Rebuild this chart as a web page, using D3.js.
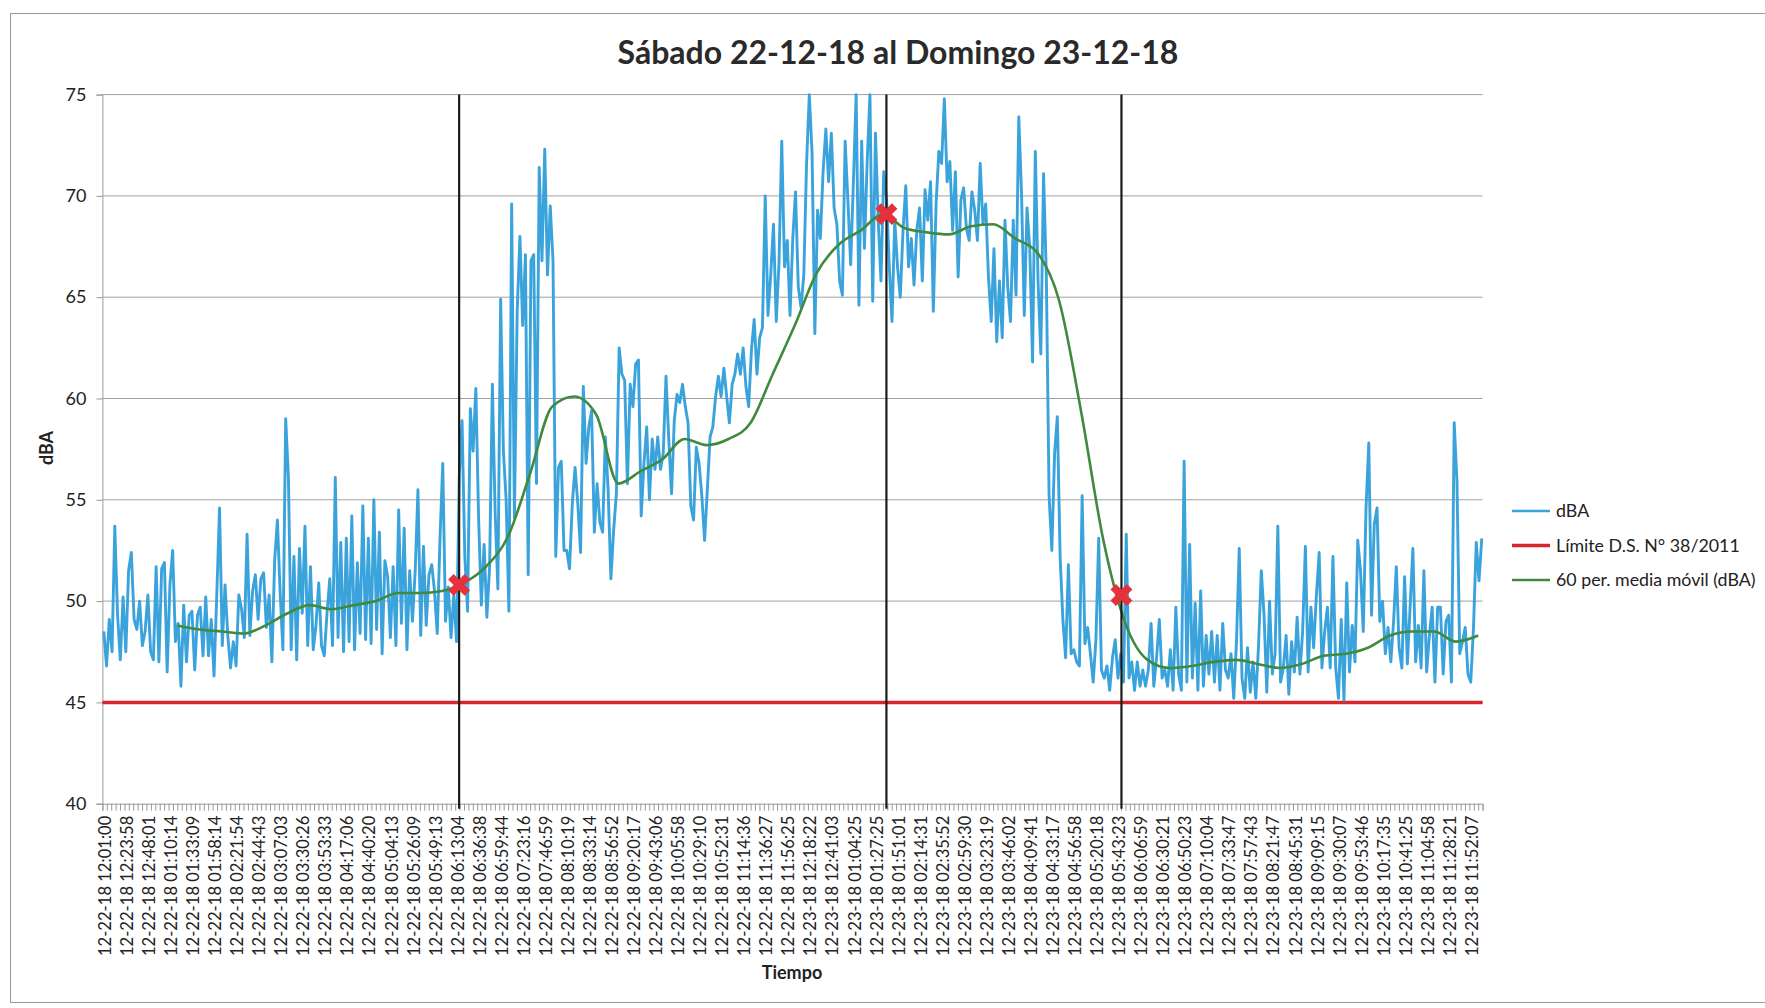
<!DOCTYPE html>
<html>
<head>
<meta charset="utf-8">
<script src="https://cdn.jsdelivr.net/npm/d3@7"></script>
<style>
  body { margin: 0; background: #fff; }
  text { font-family: Lato, "Open Sans", sans-serif; fill: #222; }
</style>
</head>
<body>
<script>
// tick labels of the category axis (one every 5 categories)
let labels = [
  "12-22-18 12:01:00","12-22-18 12:23:58","12-22-18 12:48:01","12-22-18 01:10:14","12-22-18 01:33:09",
  "12-22-18 01:58:14","12-22-18 02:21:54","12-22-18 02:44:43","12-22-18 03:07:03","12-22-18 03:30:26",
  "12-22-18 03:53:33","12-22-18 04:17:06","12-22-18 04:40:20","12-22-18 05:04:13","12-22-18 05:26:09",
  "12-22-18 05:49:13","12-22-18 06:13:04","12-22-18 06:36:38","12-22-18 06:59:44","12-22-18 07:23:16",
  "12-22-18 07:46:59","12-22-18 08:10:19","12-22-18 08:33:14","12-22-18 08:56:52","12-22-18 09:20:17",
  "12-22-18 09:43:06","12-22-18 10:05:58","12-22-18 10:29:10","12-22-18 10:52:31","12-22-18 11:14:36",
  "12-22-18 11:36:27","12-22-18 11:56:25","12-23-18 12:18:22","12-23-18 12:41:03","12-23-18 01:04:25",
  "12-23-18 01:27:25","12-23-18 01:51:01","12-23-18 02:14:31","12-23-18 02:35:52","12-23-18 02:59:30",
  "12-23-18 03:23:19","12-23-18 03:46:02","12-23-18 04:09:41","12-23-18 04:33:17","12-23-18 04:56:58",
  "12-23-18 05:20:18","12-23-18 05:43:23","12-23-18 06:06:59","12-23-18 06:30:21","12-23-18 06:50:23",
  "12-23-18 07:10:04","12-23-18 07:33:47","12-23-18 07:57:43","12-23-18 08:21:47","12-23-18 08:45:31",
  "12-23-18 09:09:15","12-23-18 09:30:07","12-23-18 09:53:46","12-23-18 10:17:35","12-23-18 10:41:25",
  "12-23-18 11:04:58","12-23-18 11:28:21","12-23-18 11:52:07"
]

// dBA readings, 8 per label interval
let dba = [
  48.5,46.8,49.1,47.5,53.7,49.3,47.1,50.2,
  47.5,51.5,52.4,49.1,48.6,50.0,47.8,48.5,
  50.3,47.5,47.1,51.7,47.0,51.6,51.9,46.5,
  50.8,52.5,48.0,48.9,45.8,49.8,47.0,49.3,
  49.5,46.6,49.3,49.7,47.3,50.2,47.3,49.1,
  46.3,50.3,54.6,47.8,50.8,48.3,46.7,48.0,
  46.8,50.3,49.6,48.2,53.3,48.3,50.5,51.3,
  49.1,51.1,51.4,48.7,50.3,47.0,52.0,54.0,
  50.4,47.6,59.0,56.1,47.6,52.2,47.1,52.6,
  49.4,53.7,47.8,51.7,47.6,48.8,50.9,47.8,
  47.3,49.4,51.1,47.8,56.1,48.2,52.9,47.5,
  53.1,48.0,54.2,47.6,51.9,48.4,54.7,48.1,
  53.1,47.9,55.0,48.6,53.4,47.4,52.0,51.2,
  48.2,51.7,47.8,54.5,48.9,53.6,47.6,51.5,
  49.0,51.5,55.5,48.3,52.7,48.8,51.3,51.8,
  50.5,48.4,53.1,56.8,49.0,50.7,48.2,50.3,
  48.0,56.2,58.9,52.2,49.5,59.5,57.4,60.5,
  54.1,49.8,52.8,49.2,51.7,60.7,54.4,50.6,
  64.9,57.4,55.0,49.5,69.6,54.1,64.3,68.0,
  63.6,67.1,51.3,66.8,67.1,55.8,71.4,66.8,
  72.3,66.1,69.5,66.8,52.2,56.6,56.9,52.5,
  52.5,51.6,54.8,56.6,54.8,52.4,60.6,56.8,
  58.6,59.4,53.4,55.8,53.9,53.4,58.1,55.5,
  51.1,53.5,55.3,62.5,61.2,60.9,55.8,60.7,
  59.6,61.7,61.9,54.2,56.8,58.6,55.0,58.0,
  56.5,58.1,56.5,57.3,61.1,58.0,55.3,58.9,
  60.2,59.8,60.7,59.6,58.8,54.7,54.0,57.6,
  56.8,55.2,53.0,55.5,58.1,58.6,60.1,61.1,
  60.1,61.5,60.1,58.8,60.7,61.2,62.2,61.2,
  62.5,60.6,59.6,62.4,63.9,61.2,63.0,63.5,
  70.0,64.1,66.1,68.6,63.8,66.7,72.7,66.5,
  67.8,64.1,67.9,70.2,65.5,64.5,66.1,71.6,
  75.0,72.1,63.2,69.3,67.9,71.2,73.3,70.7,
  73.1,69.4,68.6,65.8,65.1,72.7,69.8,66.6,
  70.7,75.0,64.6,72.7,67.4,71.7,75.0,64.8,
  73.1,68.8,65.8,71.2,69.9,66.6,63.8,68.8,
  66.5,65.0,68.3,70.5,66.5,67.9,65.6,68.3,
  69.4,65.8,70.3,68.8,70.7,64.3,69.6,72.2,
  71.6,74.8,70.7,71.7,68.3,71.2,66.0,69.8,
  70.4,68.4,67.8,70.2,69.3,67.8,71.6,68.6,
  69.6,66.0,63.8,67.4,62.8,65.8,63.0,68.8,
  65.5,63.8,68.8,65.1,73.9,70.1,64.1,69.4,
  67.4,61.8,72.2,65.8,62.2,71.1,66.1,55.2,
  52.5,57.3,59.1,52.2,49.1,47.2,51.8,47.4,
  47.6,47.0,46.8,55.2,47.9,48.7,47.4,46.0,
  48.1,53.1,46.6,46.2,46.8,45.6,47.2,48.1,
  46.2,47.4,46.0,53.3,46.2,47.0,45.6,47.0,
  45.8,46.6,45.8,46.6,48.9,45.8,47.2,49.1,
  46.2,46.6,45.8,47.6,45.6,49.7,46.4,45.6,
  56.9,46.0,52.8,46.2,49.9,45.6,50.5,45.8,
  48.3,46.4,48.5,46.0,48.3,45.6,48.9,46.6,
  46.2,47.4,45.2,48.0,52.6,46.2,45.2,47.7,
  45.5,47.0,45.2,47.8,51.5,49.3,45.5,50.0,
  46.4,47.4,53.7,46.0,46.7,48.3,45.4,48.0,
  46.5,49.2,46.4,48.5,52.7,46.5,49.7,47.7,
  50.3,52.4,46.7,48.5,49.7,46.7,52.2,46.7,
  45.2,49.1,45.1,50.9,46.5,48.8,47.0,53.0,
  51.5,48.5,54.6,57.8,49.3,53.8,54.6,49.0,
  50.0,47.4,48.7,47.0,49.0,51.7,47.7,46.7,
  51.2,46.9,49.7,52.6,47.0,48.8,46.7,51.5,
  46.5,48.3,49.7,46.0,49.7,49.7,46.4,49.0,
  49.3,46.0,58.8,55.9,47.4,48.0,48.7,46.4,
  46.0,48.7,52.9,51.0,53.1
]

// 60 period moving average, one reading every 5 categories from category 17
let mediaMovil = [
  48.8,48.6,48.5,48.4,48.8,49.4,49.8,49.6,49.8,50.0,
  50.4,50.4,50.5,50.9,51.7,53.2,56.3,59.6,60.1,59.2,
  55.8,56.4,57.0,58.0,57.7,58.0,58.8,61.2,63.6,66.2,
  67.6,68.3,69.1,68.4,68.2,68.1,68.5,68.6,67.9,67.2,
  64.8,59.3,53.0,48.9,47.1,46.7,46.8,47.0,47.1,46.9,
  46.7,46.9,47.3,47.4,47.7,48.3,48.5,48.5,48.0,48.3
]
let mediaMovilInicio = 17
let mediaMovilPaso = 5

let limite = 45

// vertical reference lines with their red crosses
let marcasCat = [80.9, 177.8, 231.1]
let marcasVal = [50.8, 69.1, 50.3]

let yTicks = [40, 45, 50, 55, 60, 65, 70, 75]
let series = ["dBA", "Límite D.S. N° 38/2011", "60 per. media móvil (dBA)"]
let colors = ["#3ba3dc", "#d9242b", "#3f8a3c"]

// chart variables
let width = 1765;
let height = 1008;
let margin = {top: 94.6, right: 282.4, bottom: 204.3, left: 102.4};
let nCats = 313;
let catsPerLabel = 5;
let ptsPerLabel = 8;

let x = d3.scaleLinear()
          .domain([0, nCats])
          .range([margin.left, width - margin.right])

let y = d3.scaleLinear()
          .domain([40, 75])
          .range([height - margin.bottom, margin.top])

let svg = d3.select("body")
            .append("svg")
            .attr("width", width)
            .attr("height", height)

// outer chart frame
svg.append("rect")
   .attr("x", 10.5).attr("y", 13.5)
   .attr("width", 1800).attr("height", 989)
   .attr("fill", "none")
   .attr("stroke", "#999")

svg.append("text")
   .attr("x", 898).attr("y", 64)
   .attr("text-anchor", "middle")
   .style("font-size", "32px")
   .style("font-weight", "bold")
   .style("fill", "#2a2a2a")
   .text("Sábado 22-12-18 al Domingo 23-12-18")

// gridlines
svg.append("g")
   .selectAll("line")
   .data(yTicks.filter(d => d > 40))
   .join("line")
   .attr("x1", x(0)).attr("x2", x(nCats))
   .attr("y1", d => y(d)).attr("y2", d => y(d))
   .attr("stroke", "#a0a0a0")
   .attr("stroke-width", 1)

// y axis
let yAxis = svg.append("g")
               .attr("transform", `translate(${margin.left},0)`)
               .call(d3.axisLeft(y).tickValues(yTicks).tickSize(6).tickPadding(10))
yAxis.selectAll("line").attr("stroke", "#999")
yAxis.select(".domain").attr("stroke", "#999")
yAxis.selectAll("text")
     .style("font-size", "18px")
     .style("font-family", "Lato, 'Open Sans', sans-serif")
     .attr("fill", "#222")

// x axis: a small tick for every category
let xAxis = svg.append("g")
               .attr("transform", `translate(0,${y(40)})`)
               .call(d3.axisBottom(x).tickValues(d3.range(0, nCats + 1)).tickFormat("").tickSize(7))
xAxis.selectAll("line").attr("stroke", "#9a9a9a")
xAxis.select(".domain").attr("stroke", "#999")

// rotated tick labels, one every 5 categories
let xLabels = svg.append("g")
                 .attr("transform", `translate(0,${y(40)})`)
                 .call(d3.axisBottom(x)
                         .tickValues(labels.map((d, i) => i * catsPerLabel + 0.5))
                         .tickFormat((d, i) => labels[i])
                         .tickSize(0))
xLabels.select(".domain").remove()
xLabels.selectAll("text")
       .attr("transform", "rotate(-90)")
       .attr("x", -12)
       .attr("y", 0)
       .attr("dy", "0.35em")
       .style("text-anchor", "end")
       .style("font-size", "16.6px")
       .style("font-family", "Lato, 'Open Sans', sans-serif")
       .attr("fill", "#222")

// limit line
svg.append("line")
   .attr("x1", x(0)).attr("x2", x(nCats))
   .attr("y1", y(limite)).attr("y2", y(limite))
   .attr("stroke", colors[1])
   .attr("stroke-width", 3.5)

// dBA line
let lineDba = d3.line()
                .x((d, i) => x((i + 0.5) * catsPerLabel / ptsPerLabel))
                .y(d => y(d))

svg.append("path")
   .datum(dba)
   .attr("d", lineDba)
   .attr("fill", "none")
   .attr("stroke", colors[0])
   .attr("stroke-width", 2.9)
   .attr("stroke-linejoin", "round")

// moving average
let lineMm = d3.line()
               .x((d, i) => x(mediaMovilInicio + i * mediaMovilPaso))
               .y(d => y(d))
               .curve(d3.curveMonotoneX)

svg.append("path")
   .datum(mediaMovil)
   .attr("d", lineMm)
   .attr("fill", "none")
   .attr("stroke", colors[2])
   .attr("stroke-width", 2.6)

// vertical black lines
svg.append("g")
   .selectAll("line")
   .data(marcasCat)
   .join("line")
   .attr("x1", d => x(d)).attr("x2", d => x(d))
   .attr("y1", y(75)).attr("y2", y(40) + 5)
   .attr("stroke", "#1b1b1b")
   .attr("stroke-width", 2.2)

// red crosses
svg.append("g")
   .selectAll("path")
   .data(marcasCat)
   .join("path")
   .attr("d", d3.symbol().type(d3.symbolCross).size(300))
   .attr("transform", (d, i) => `translate(${x(d)},${y(marcasVal[i])}) rotate(45)`)
   .attr("fill", "#e5313c")

// axis titles
svg.append("text")
   .attr("x", 792).attr("y", 979)
   .attr("text-anchor", "middle")
   .style("font-size", "18px")
   .style("font-weight", "bold")
   .text("Tiempo")

svg.append("text")
   .attr("transform", `translate(53,448) rotate(-90)`)
   .attr("text-anchor", "middle")
   .style("font-size", "18px")
   .style("font-weight", "bold")
   .text("dBA")

// legend
let legend = svg.append("g")
                .selectAll("g")
                .data(series)
                .join("g")
                .attr("transform", (d, i) => `translate(1512,${511 + i * 34.5})`)

legend.append("line")
      .attr("x1", 0).attr("x2", 38)
      .attr("stroke", (d, i) => colors[i])
      .attr("stroke-width", (d, i) => i == 1 ? 3.5 : 2.6)

legend.append("text")
      .attr("x", 44)
      .attr("dy", "0.35em")
      .style("font-size", "17.8px")
      .text(d => d)
</script>
</body>
</html>
